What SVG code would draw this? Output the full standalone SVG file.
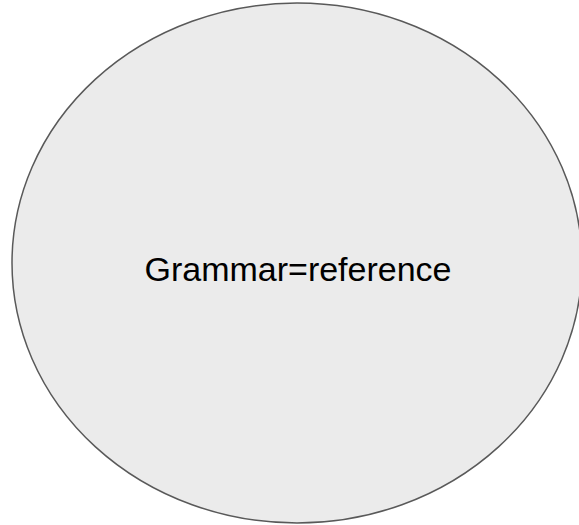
<svg xmlns="http://www.w3.org/2000/svg" width="579" height="525" viewBox="0 0 579 525">
<style>
.node-shape{fill:#ebebeb;stroke:#595959;stroke-width:1.5}
.label{font-family:"Liberation Sans",Arial,sans-serif;font-size:34px;fill:#000000;text-anchor:middle}
</style>
<rect width="579" height="525" fill="#ffffff"/>
<g id="connectors"></g>
<g id="node-grammar">
<ellipse class="node-shape" cx="297" cy="263" rx="285" ry="260"/>
<text class="label" x="298" y="281">Grammar=reference</text>
</g>
</svg>
